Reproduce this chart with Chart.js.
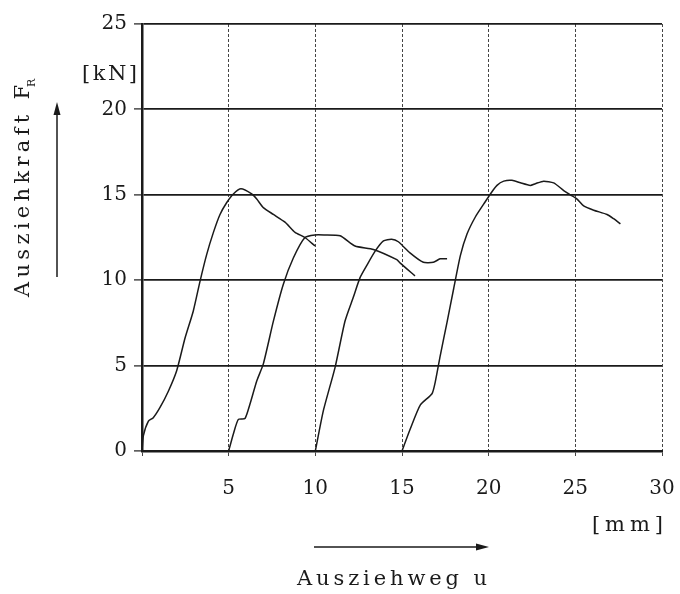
<!DOCTYPE html>
<html>
<head>
<meta charset="utf-8">
<script src="https://cdn.jsdelivr.net/npm/chart.js@4.4.1/dist/chart.umd.min.js"></script>
<style>
    html, body { margin: 0; padding: 0; background: #fff; }
    #wrap { width: 680px; height: 594px; position: relative; }
</style>
</head>
<body>
<div id="wrap"><canvas id="forceChart"></canvas></div>
<script>
// Ausziehweg u [mm] / Ausziehkraft F_R [kN], four pull-out curves
const curve1X = [0, 0.08, 0.37, 0.65, 1.04, 1.52, 2.0, 2.48, 2.96, 3.35, 3.73, 4.12, 4.5, 4.89, 5.27, 5.71, 6.33, 6.62, 7.0, 7.58, 8.25, 8.83, 9.4, 9.98];
const curve1Y = [0, 0.9, 1.75, 1.95, 2.55, 3.5, 4.7, 6.6, 8.2, 9.95, 11.5, 12.8, 13.85, 14.55, 15.05, 15.35, 15.05, 14.75, 14.25, 13.85, 13.4, 12.8, 12.5, 12.0];

const curve2X = [5.0, 5.27, 5.56, 5.94, 6.23, 6.62, 7.0, 7.58, 8.15, 8.73, 9.4, 9.98, 10.5, 11.43, 12.29, 13.35, 14.7, 14.9, 15.75];
const curve2Y = [0, 1.0, 1.85, 1.9, 2.75, 4.1, 5.1, 7.6, 9.75, 11.3, 12.5, 12.65, 12.65, 12.6, 12.0, 11.8, 11.2, 11.0, 10.25];

const curve3X = [10.0, 10.46, 11.14, 11.71, 12.19, 12.58, 12.96, 13.45, 13.93, 14.4, 14.79, 15.46, 16.23, 16.81, 17.2, 17.6];
const curve3Y = [0, 2.35, 4.9, 7.6, 9.0, 10.15, 10.85, 11.7, 12.3, 12.4, 12.25, 11.6, 11.05, 11.05, 11.25, 11.25];

const curve4X = [15.0, 15.48, 16.06, 16.73, 16.92, 17.21, 17.6, 17.98, 18.37, 18.75, 19.23, 19.71, 20.1, 20.48, 20.87, 21.35, 21.83, 22.4, 22.69, 23.17, 23.75, 24.33, 24.71, 25.1, 25.48, 26.06, 26.83, 27.21, 27.6];
const curve4Y = [0, 1.3, 2.7, 3.35, 4.05, 5.6, 7.55, 9.5, 11.45, 12.7, 13.7, 14.45, 15.05, 15.55, 15.8, 15.85, 15.7, 15.55, 15.65, 15.8, 15.7, 15.25, 15.0, 14.75, 14.35, 14.1, 13.85, 13.6, 13.3];

const xTicks = [0, 5, 10, 15, 20, 25, 30];
const yTicks = [0, 5, 10, 15, 20, 25];

const FONT = "'DejaVu Serif', serif";
const INK = "#1a1a1a";

function toPoints(xs, ys) {
    return xs.map((x, i) => ({ x: x, y: ys[i] }));
}

function curve(xs, ys) {
    return {
        data: toPoints(xs, ys),
        borderColor: INK,
        borderWidth: 1.5,
        pointRadius: 0,
        tension: 0.2,
        fill: false
    };
}

// left-aligned text stretched to a given width, like the typewriter lettering
function spacedText(ctx, str, x, y, width) {
    ctx.letterSpacing = "0px";
    const w = ctx.measureText(str).width;
    const sp = Math.max(0, (width - w) / (str.length - 1));
    ctx.letterSpacing = sp + "px";
    ctx.fillText(str, x, y);
    ctx.letterSpacing = "0px";
}

const labelsPlugin = {
    id: "labels",
    afterDraw(chart) {
        const ctx = chart.ctx;
        const area = chart.chartArea;
        ctx.save();
        ctx.fillStyle = INK;
        ctx.strokeStyle = INK;
        ctx.textBaseline = "middle";
        ctx.textAlign = "left";

        // units
        ctx.font = "21px " + FONT;
        spacedText(ctx, "[kN]", area.left - 60, 75, 55);
        spacedText(ctx, "[mm]", area.right - 70, 526, 71);

        // y title, rotated
        ctx.save();
        ctx.translate(24, 297);
        ctx.rotate(-Math.PI / 2);
        ctx.font = "21px " + FONT;
        spacedText(ctx, "Ausziehkraft F", 0, 0, 212);
        ctx.font = "11px " + FONT;
        ctx.fillText("R", 210, 8);
        ctx.restore();

        // vertical arrow
        ctx.lineWidth = 1.5;
        ctx.beginPath();
        ctx.moveTo(57, 277);
        ctx.lineTo(57, 112);
        ctx.stroke();
        ctx.beginPath();
        ctx.moveTo(57, 102);
        ctx.lineTo(53.5, 115);
        ctx.lineTo(60.5, 115);
        ctx.closePath();
        ctx.fill();

        // horizontal arrow
        ctx.beginPath();
        ctx.moveTo(314, 547);
        ctx.lineTo(478, 547);
        ctx.stroke();
        ctx.beginPath();
        ctx.moveTo(489, 547);
        ctx.lineTo(476, 543.5);
        ctx.lineTo(476, 550.5);
        ctx.closePath();
        ctx.fill();

        // x title
        ctx.font = "21px " + FONT;
        spacedText(ctx, "Ausziehweg u", 297, 580, 190);
        ctx.restore();
    }
};

const ctx = document.getElementById("forceChart").getContext("2d");
const forceChart = new Chart(ctx, {
    type: "line",
    data: {
        datasets: [
            curve(curve1X, curve1Y),
            curve(curve2X, curve2Y),
            curve(curve3X, curve3Y),
            curve(curve4X, curve4Y)
        ]
    },
    options: {
        responsive: true,
        maintainAspectRatio: false,
        animation: false,
        events: [],
        layout: {
            padding: { top: 24, right: 18, left: 0, bottom: 0 }
        },
        plugins: {
            legend: { display: false },
            tooltip: { enabled: false }
        },
        scales: {
            x: {
                type: "linear",
                min: xTicks[0],
                max: xTicks[xTicks.length - 1],
                afterFit: (scale) => {
                    scale.height = 143;
                    scale.paddingLeft = 0;
                    scale.paddingRight = 0;
                },
                afterBuildTicks: (scale) => { scale.ticks = xTicks.map(v => ({ value: v })); },
                ticks: {
                    color: INK,
                    font: { family: FONT, size: 20 },
                    padding: 21,
                    maxRotation: 0,
                    callback: (v) => (v === 0 ? "" : v)
                },
                grid: {
                    color: "#444",
                    lineWidth: 1,
                    tickLength: 5,
                    tickColor: "#444"
                },
                border: { color: INK, width: 2.5, dash: [3, 2] }
            },
            y: {
                min: yTicks[0],
                max: yTicks[yTicks.length - 1],
                afterFit: (scale) => { scale.width = 142; },
                afterBuildTicks: (scale) => { scale.ticks = yTicks.map(v => ({ value: v })); },
                ticks: {
                    color: INK,
                    font: { family: FONT, size: 20 },
                    padding: 7
                },
                grid: {
                    color: INK,
                    lineWidth: 1.8,
                    tickLength: 8,
                    tickColor: INK,
                    tickWidth: 1.2
                },
                border: { color: INK, width: 2.5 }
            }
        }
    },
    plugins: [labelsPlugin]
});
</script>
</body>
</html>
